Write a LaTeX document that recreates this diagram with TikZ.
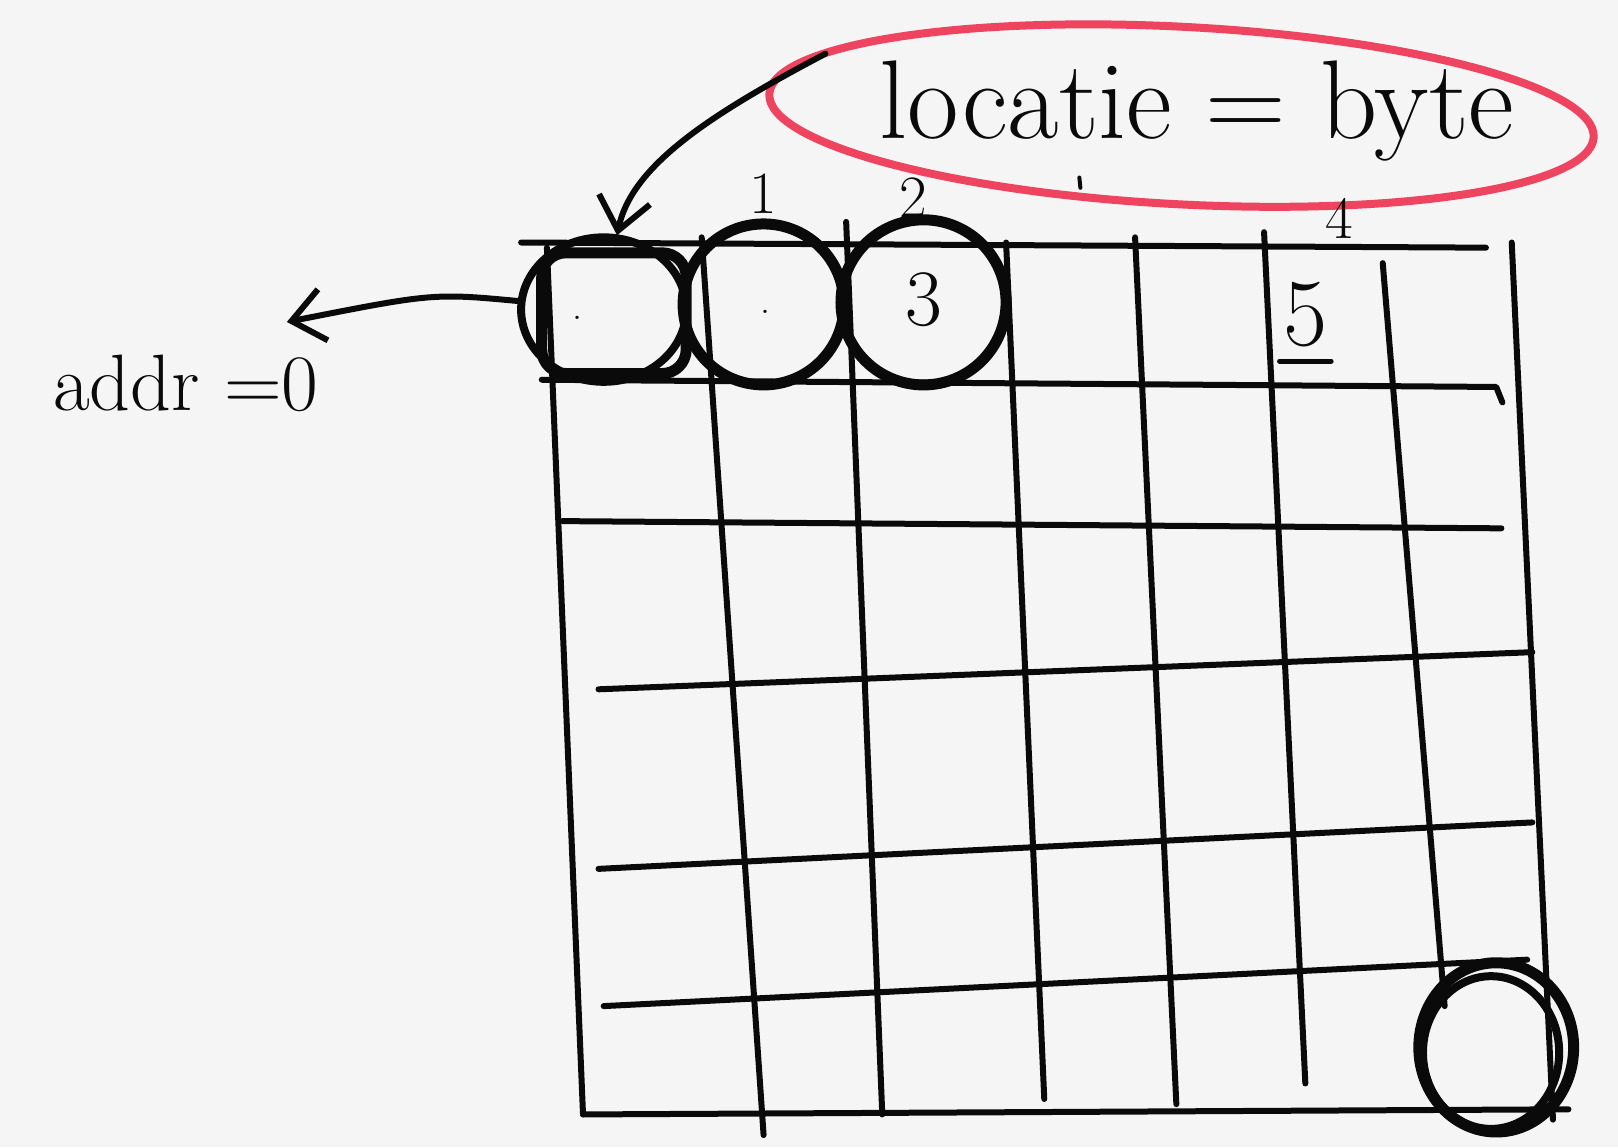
\documentclass[tikz,border=0pt]{standalone}
\usetikzlibrary{arrows.meta}
\definecolor{bg}{HTML}{F5F5F5}
\definecolor{ink}{HTML}{0A0A0A}
\definecolor{redink}{HTML}{EE4460}
\tikzset{
  gridline/.style={draw=ink, line width=3pt},
  bold/.style={draw=ink, line width=5.5pt},
  hand/.style={draw=ink, line width=3pt, -{Straight Barb[length=16pt,width=26pt,line width=3pt]}},
  lbl/.style={text=ink, inner sep=0pt}
}
\begin{document}
\begin{tikzpicture}[x=0.516pt,y=-0.516pt, line cap=round, line join=round]
\useasboundingbox[fill=bg] (0,0) rectangle (1568,1112);
% horizontal lines
\draw[gridline] (505,235) -- (1440,240);
\draw[gridline] (525,368) -- (1450,375) -- (1456,390);
\draw[gridline] (545,505) -- (1455,512);
\draw[gridline] (580,668) -- (1485,632);
\draw[gridline] (580,842) -- (1485,797);
\draw[gridline] (585,975) -- (1480,930);
\draw[gridline] (565,1080) -- (1520,1075);
% vertical lines
\draw[gridline] (530,240) -- (565,1080);
\draw[gridline] (680,230) -- (740,1100);
\draw[gridline] (820,215) -- (855,1080);
\draw[gridline] (975,235) -- (1012,1065);
\draw[gridline] (1100,230) -- (1140,1070);
\draw[gridline] (1225,225) -- (1265,1050);
\draw[gridline] (1340,255) -- (1400,975);
\draw[gridline] (1465,235) -- (1505,1085);
% highlighted cells
\draw[bold, rounded corners=12pt] (525,245) rectangle (665,362);
\draw[draw=ink, line width=4pt] (585,300) ellipse [x radius=80, y radius=70];
\draw[bold] (740,295) ellipse [x radius=78, y radius=78];
\draw[bold] (895,293) ellipse [x radius=80, y radius=80];
\draw[bold] (1450,1015) ellipse [x radius=75, y radius=82];
\draw[draw=ink, line width=4pt] (1445,1020) ellipse [x radius=66, y radius=74];
% red ellipse
\draw[draw=redink, line width=4pt] (1145,112) ellipse [x radius=400, y radius=86, rotate=-3];
% text
\node[lbl, font=\fontsize{56}{60}\selectfont] (loc) at (1160,108) {locatie = byte};
\node[lbl, font=\fontsize{40}{44}\selectfont] (addr) at (180,372) {addr =0};
\node[lbl, font=\fontsize{30}{34}\selectfont] (n1) at (740,188) {1};
\node[lbl, font=\fontsize{30}{34}\selectfont] (n2) at (885,192) {2};
\node[lbl, font=\fontsize{30}{34}\selectfont] (n4) at (1298,212) {4};
\draw[draw=ink, line width=2pt] (1046,172) -- (1047,182);
\node[lbl, font=\fontsize{48}{52}\selectfont] (n5) at (1265,305) {5};
\draw[draw=ink, line width=2.5pt] (1240,350) -- (1290,350);
\node[lbl, font=\fontsize{40}{44}\selectfont] (n3) at (895,290) {3};
\node[lbl, font=\fontsize{20}{24}\selectfont] (d1) at (560,308) {.};
\node[lbl, font=\fontsize{20}{24}\selectfont] (d2) at (742,302) {.};
% arrows
\coordinate (a1s) at (800,52);
\coordinate (a1e) at (598,228);
\draw[hand] (a1s) .. controls (690,110) and (612,160) .. (a1e);
\coordinate (a2s) at (505,292);
\coordinate (a2e) at (278,312);
\draw[hand] (a2s) .. controls (420,284) .. (a2e);
\end{tikzpicture}
\end{document}
